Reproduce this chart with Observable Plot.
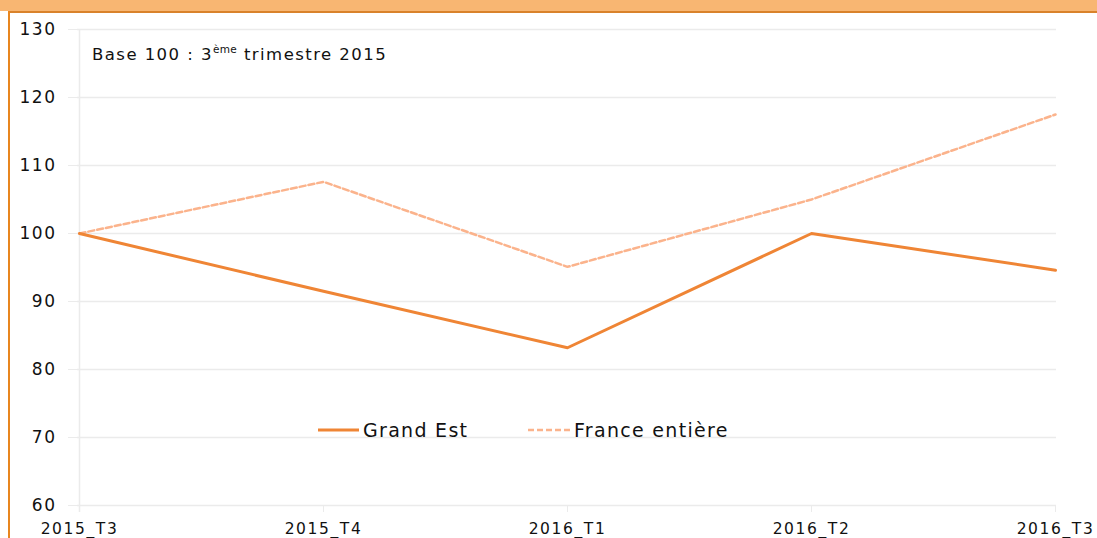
<!DOCTYPE html>
<html>
<head>
<meta charset="utf-8">
<script src="https://cdn.jsdelivr.net/npm/d3@7"></script>
<script src="https://cdn.jsdelivr.net/npm/@observablehq/plot@0.6"></script>
<style>
  html, body { margin: 0; padding: 0; background: #fff; }
  #wrap { position: relative; width: 1097px; height: 538px; overflow: hidden; }
  #bar { position: absolute; left: 0; top: 0; width: 1097px; height: 11px; background: #F8B672; }
  #topline { position: absolute; left: 8px; top: 11px; width: 1089px; height: 2px; background: #D9822B; }
  #leftline { position: absolute; left: 8px; top: 11px; width: 2px; height: 527px; background: #E8861F; }
  #chart { position: absolute; left: 0; top: 0; }
  #note { position: absolute; left: 92px; top: 45px; font-family: "DejaVu Sans", sans-serif; font-size: 16.5px; letter-spacing: 1.45px; color: #111; white-space: nowrap; }
  #note sup { font-size: 10.5px; vertical-align: 7px; line-height: 0; letter-spacing: 0.4px; }
  .leg { position: absolute; top: 419px; font-family: "DejaVu Sans", sans-serif; font-size: 19px; letter-spacing: 1.3px; color: #111; display: flex; align-items: center; white-space: nowrap; }
  .leg svg { margin-right: 4px; }
  g[aria-label="y-axis tick label"] text { letter-spacing: 1.5px; }
  g[aria-label="x-axis tick label"] text { letter-spacing: 1.6px; }
</style>
</head>
<body>
<div id="wrap">
  <div id="chart"></div>
  <div id="bar"></div>
  <div id="topline"></div>
  <div id="leftline"></div>
  <div id="note">Base 100 : 3<sup>ème</sup> trimestre 2015</div>
  <div class="leg" style="left:318px"><svg width="41" height="6"><line x1="0" x2="41" y1="3" y2="3" stroke="#EF8535" stroke-width="3"/></svg>Grand Est</div>
  <div class="leg" style="left:528px"><svg width="42" height="6"><line x1="0" x2="42" y1="3" y2="3" stroke="#FBB38C" stroke-width="2.5" stroke-dasharray="6,3"/></svg>France entière</div>
</div>
<script>
const quarters = ["2015_T3", "2015_T4", "2016_T1", "2016_T2", "2016_T3"];
const grandEst = [100, 91.5, 83.2, 100, 94.6];
const franceEntiere = [100, 107.6, 95.1, 105.0, 117.5];
const yTicks = [60, 70, 80, 90, 100, 110, 120, 130];

const dataGE = quarters.map((q, i) => ({q, v: grandEst[i]}));
const dataFR = quarters.map((q, i) => ({q, v: franceEntiere[i]}));

const grid = "#EBEBEB";
const chart = Plot.plot({
  width: 1097,
  height: 538,
  marginLeft: 77,
  marginRight: 41,
  marginTop: 29,
  marginBottom: 33,
  style: { fontFamily: "'DejaVu Sans', sans-serif", color: "#111", background: "transparent", overflow: "visible" },
  x: { type: "point", domain: quarters, padding: 0 },
  y: { domain: [60, 130] },
  marks: [
    Plot.ruleY(yTicks, { stroke: grid, strokeWidth: 1.5 }),
    Plot.ruleX([quarters[0]], { stroke: grid, strokeWidth: 1.5, y1: 130, y2: 60, insetBottom: -7 }),
    Plot.axisY({ ticks: yTicks, tickSize: 9, tickPadding: 12, stroke: grid, label: null, fontSize: 17, fill: "#111" }),
    Plot.axisX({ tickSize: 7, tickPadding: 10, stroke: grid, label: null, fontSize: 15.5, fill: "#111" }),
    Plot.line(dataFR, { x: "q", y: "v", stroke: "#FBB38C", strokeWidth: 2.5, strokeDasharray: "6,3" }),
    Plot.line(dataGE, { x: "q", y: "v", stroke: "#EF8535", strokeWidth: 3 })
  ]
});
document.getElementById("chart").appendChild(chart);
</script>
</body>
</html>
